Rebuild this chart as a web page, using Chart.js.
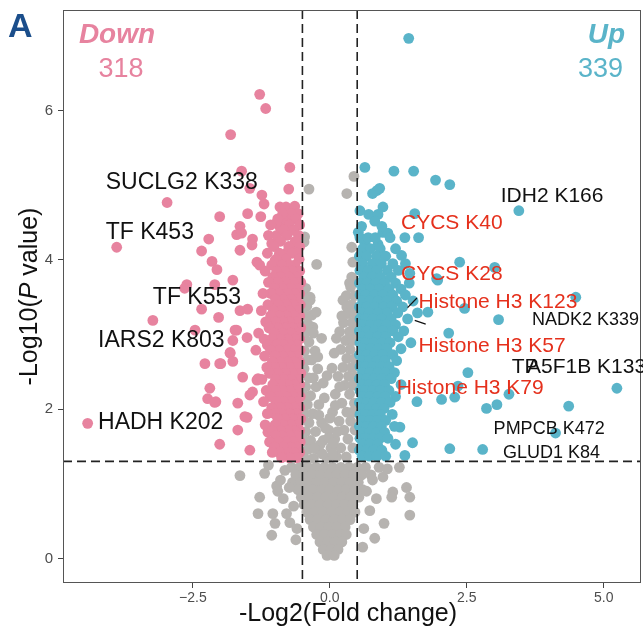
<!DOCTYPE html>
<html>
<head>
<meta charset="utf-8">
<script src="https://cdn.jsdelivr.net/npm/chart.js@4.4.1/dist/chart.umd.min.js"></script>
<style>
  html, body { margin: 0; padding: 0; background: #fff; }
  #wrap { width: 643px; height: 640px; }
</style>
</head>
<body>
<div id="wrap"><canvas id="volcano" width="643" height="640"></canvas></div>
<script>
// ---- data: [-log2(FC), -log10(P)] ----
const downPoints = [
  [-1.28,6.22],[-1.17,6.03],[-1.81,5.68],[-1.61,5.19],[-0.73,5.24],[-0.75,4.95],[-1.46,4.96],[-1.24,4.87],
  [-1.20,4.75],[-0.91,4.71],[-0.80,4.71],[-0.64,4.72],[-1.50,4.62],[-1.26,4.58],[-2.01,4.58],[-1.64,4.45],
  [-1.70,4.34],[-1.61,4.36],[-2.21,4.28],[-1.41,4.28],[-1.42,4.20],[-1.64,4.13],[-2.34,4.12],[-2.15,3.98],
  [-2.06,3.87],[-1.06,4.22],[-0.97,4.33],[-0.78,4.10],[-1.00,3.99],[-0.68,4.16],[-1.33,3.97],[-1.28,3.93],
  [-0.91,4.44],[-0.78,4.53],[-0.97,4.50],[-2.97,4.77],[-3.89,4.17],[-2.61,3.67],[-2.65,3.62],[-2.10,3.67],
  [-1.77,3.73],[-2.34,3.34],[-3.23,3.19],[-2.03,3.23],[-2.46,3.06],[-1.70,3.06],[-4.42,1.81],[-2.28,2.61],
  [-2.01,2.61],[-2.19,2.28],[-2.23,2.14],[-2.08,2.10],[-2.01,1.53],[-1.68,1.72],[-1.46,1.45],[-1.68,2.08],
  [-1.51,1.89],[-1.59,2.43],[-1.41,2.23],[-1.33,2.39],[-1.77,2.92],[-1.82,2.75],[-1.64,3.32],[-1.50,3.34],
  [-1.73,3.06],[-1.51,2.96],[-1.82,2.76],[-1.77,2.64],[-1.99,2.61],[-2.10,2.09],[-1.46,2.19],[-1.31,2.41],
  [-1.55,1.90],[-1.13,1.69],
  [-0.58,4.62],[-0.71,4.62],[-0.86,4.62],[-0.62,4.55],[-0.95,4.55],[-0.55,4.47],[-0.74,4.47],[-1.08,4.47],
  [-0.66,4.40],[-0.84,4.40],[-0.57,4.33],[-0.78,4.33],[-1.12,4.33],[-0.63,4.25],[-0.90,4.25],[-0.55,4.18],
  [-0.75,4.18],[-1.02,4.18],[-0.60,4.09],[-0.69,4.09],[-0.92,4.09],[-1.14,4.09],[-0.56,4.01],[-0.80,4.01],
  [-0.98,4.01],[-0.64,3.93],[-0.73,3.93],[-0.88,3.93],[-1.06,3.93],[-0.55,3.85],[-0.69,3.85],[-0.83,3.85],
  [-0.97,3.85],[-1.18,3.85],[-0.60,3.77],[-0.74,3.77],[-0.90,3.77],[-1.04,3.77],[-0.53,3.70],[-0.66,3.70],
  [-0.81,3.70],[-0.95,3.70],[-1.12,3.70],[-0.58,3.62],[-0.72,3.62],[-0.87,3.62],[-1.01,3.62],[-0.55,3.55],
  [-0.64,3.55],[-0.78,3.55],[-0.93,3.55],[-1.08,3.55],[-1.22,3.55],[-0.60,3.47],[-0.70,3.47],[-0.85,3.47],
  [-0.99,3.47],[-0.54,3.40],[-0.67,3.40],[-0.80,3.40],[-0.94,3.40],[-1.13,3.40],[-0.59,3.32],[-0.73,3.32],
  [-0.88,3.32],[-1.03,3.32],[-1.25,3.32],[-0.55,3.25],[-0.65,3.25],[-0.79,3.25],[-0.92,3.25],[-1.08,3.25],
  [-0.61,3.17],[-0.74,3.17],[-0.86,3.17],[-0.99,3.17],[-1.17,3.17],[-0.53,3.09],[-0.68,3.09],[-0.81,3.09],
  [-0.95,3.09],[-1.11,3.09],[-0.58,3.02],[-0.71,3.02],[-0.87,3.02],[-1.02,3.02],[-1.30,3.02],[-0.55,2.94],
  [-0.64,2.94],[-0.77,2.94],[-0.91,2.94],[-1.06,2.94],[-1.20,2.94],[-0.60,2.86],[-0.73,2.86],[-0.85,2.86],
  [-0.98,2.86],[-1.14,2.86],[-0.54,2.79],[-0.67,2.79],[-0.80,2.79],[-0.93,2.79],[-1.08,2.79],[-1.35,2.79],
  [-0.59,2.71],[-0.72,2.71],[-0.86,2.71],[-1.00,2.71],[-1.19,2.71],[-0.55,2.63],[-0.65,2.63],[-0.78,2.63],
  [-0.91,2.63],[-1.05,2.63],[-0.61,2.56],[-0.74,2.56],[-0.88,2.56],[-1.01,2.56],[-1.15,2.56],[-0.53,2.48],
  [-0.68,2.48],[-0.82,2.48],[-0.95,2.48],[-1.10,2.48],[-0.58,2.40],[-0.71,2.40],[-0.85,2.40],[-0.99,2.40],
  [-1.24,2.40],[-0.55,2.33],[-0.64,2.33],[-0.77,2.33],[-0.90,2.33],[-1.04,2.33],[-0.60,2.25],[-0.73,2.25],
  [-0.87,2.25],[-1.00,2.25],[-1.16,2.25],[-0.54,2.17],[-0.67,2.17],[-0.80,2.17],[-0.94,2.17],[-1.09,2.17],
  [-0.59,2.10],[-0.72,2.10],[-0.85,2.10],[-0.98,2.10],[-1.21,2.10],[-0.55,2.02],[-0.65,2.02],[-0.78,2.02],
  [-0.91,2.02],[-1.06,2.02],[-0.61,1.94],[-0.74,1.94],[-0.88,1.94],[-1.01,1.94],[-1.14,1.94],[-0.53,1.87],
  [-0.68,1.87],[-0.82,1.87],[-0.95,1.87],[-0.58,1.79],[-0.71,1.79],[-0.86,1.79],[-1.00,1.79],[-1.18,1.79],
  [-0.55,1.71],[-0.64,1.71],[-0.77,1.71],[-0.90,1.71],[-1.05,1.71],[-0.60,1.64],[-0.73,1.64],[-0.87,1.64],
  [-0.99,1.64],[-0.54,1.56],[-0.67,1.56],[-0.80,1.56],[-0.94,1.56],[-1.10,1.56],[-0.59,1.49],[-0.72,1.49],
  [-0.85,1.49],[-1.01,1.49],[-0.55,1.42],[-0.65,1.42],[-0.78,1.42],[-0.92,1.42],[-1.05,1.42],[-0.60,1.35],
  [-0.74,1.35],[-0.88,1.35]
];

const upPoints = [
  [1.44,6.97],[0.64,5.24],[1.17,5.19],[1.53,5.19],[1.93,5.07],[2.19,5.01],[3.45,4.66],[0.86,4.93],
  [0.78,4.89],[0.91,4.96],[0.97,4.71],[0.55,4.66],[0.71,4.61],[0.88,4.61],[0.82,4.52],[1.55,4.62],
  [1.37,4.30],[1.62,4.30],[1.31,4.06],[2.37,3.97],[3.01,3.90],[1.97,3.73],[4.49,3.50],[2.46,3.35],
  [3.08,3.20],[2.17,3.02],[2.52,2.49],[5.24,2.28],[4.36,2.04],[4.12,1.68],[2.79,1.46],[2.19,1.47],
  [3.05,2.06],[2.86,2.01],[3.27,2.20],[2.28,2.16],[2.04,2.13],[2.34,2.31],[1.59,2.10],[1.51,1.55],
  [1.28,1.76],[1.37,1.38],[0.97,4.37],[1.06,4.36],[0.52,4.37],[0.64,4.22],[0.88,4.21],[1.46,3.82],
  [1.95,3.75],[1.79,3.30],
  [0.58,4.45],[0.95,4.45],[0.55,4.30],[0.70,4.30],[0.83,4.30],[1.10,4.30],[0.60,4.15],[0.74,4.15],
  [0.92,4.15],[1.20,4.15],[0.54,4.05],[0.67,4.05],[0.85,4.05],[1.02,4.05],[0.60,3.95],[0.78,3.95],
  [0.94,3.95],[1.15,3.95],[1.38,3.95],[0.55,3.86],[0.70,3.86],[0.86,3.86],[1.05,3.86],[1.25,3.86],
  [0.62,3.77],[0.77,3.77],[0.93,3.77],[1.12,3.77],[0.54,3.69],[0.68,3.69],[0.84,3.69],[1.00,3.69],
  [1.20,3.69],[1.45,3.69],[0.59,3.61],[0.74,3.61],[0.90,3.61],[1.08,3.61],[1.30,3.61],[0.55,3.53],
  [0.66,3.53],[0.81,3.53],[0.97,3.53],[1.15,3.53],[1.38,3.53],[0.60,3.45],[0.73,3.45],[0.88,3.45],
  [1.04,3.45],[1.22,3.45],[1.52,3.45],[0.54,3.37],[0.67,3.37],[0.82,3.37],[0.98,3.37],[1.13,3.37],
  [1.33,3.37],[0.59,3.29],[0.72,3.29],[0.88,3.29],[1.05,3.29],[1.24,3.29],[1.60,3.29],[0.55,3.21],
  [0.65,3.21],[0.79,3.21],[0.95,3.21],[1.12,3.21],[1.42,3.21],[0.60,3.13],[0.74,3.13],[0.89,3.13],
  [1.03,3.13],[1.20,3.13],[0.54,3.05],[0.67,3.05],[0.82,3.05],[0.97,3.05],[1.15,3.05],[1.35,3.05],
  [0.59,2.97],[0.72,2.97],[0.87,2.97],[1.02,2.97],[1.25,2.97],[0.55,2.89],[0.65,2.89],[0.80,2.89],
  [0.95,2.89],[1.10,2.89],[1.48,2.89],[0.60,2.81],[0.74,2.81],[0.88,2.81],[1.04,2.81],[1.30,2.81],
  [0.54,2.73],[0.67,2.73],[0.82,2.73],[0.97,2.73],[1.15,2.73],[0.59,2.65],[0.72,2.65],[0.86,2.65],
  [1.01,2.65],[1.22,2.65],[0.55,2.57],[0.65,2.57],[0.79,2.57],[0.94,2.57],[1.08,2.57],[0.60,2.49],
  [0.73,2.49],[0.88,2.49],[1.02,2.49],[1.18,2.49],[0.54,2.41],[0.67,2.41],[0.81,2.41],[0.95,2.41],
  [1.12,2.41],[0.59,2.33],[0.72,2.33],[0.86,2.33],[1.00,2.33],[1.30,2.33],[0.55,2.25],[0.65,2.25],
  [0.78,2.25],[0.92,2.25],[1.08,2.25],[0.60,2.17],[0.73,2.17],[0.87,2.17],[1.01,2.17],[1.20,2.17],
  [0.54,2.09],[0.67,2.09],[0.80,2.09],[0.94,2.09],[1.10,2.09],[0.59,2.01],[0.72,2.01],[0.86,2.01],
  [0.99,2.01],[0.55,1.93],[0.65,1.93],[0.78,1.93],[0.92,1.93],[1.14,1.93],[0.60,1.85],[0.73,1.85],
  [0.87,1.85],[1.02,1.85],[0.54,1.77],[0.67,1.77],[0.80,1.77],[0.94,1.77],[1.18,1.77],[0.59,1.69],
  [0.72,1.69],[0.86,1.69],[1.00,1.69],[0.55,1.61],[0.65,1.61],[0.78,1.61],[0.92,1.61],[1.06,1.61],
  [0.60,1.53],[0.73,1.53],[0.87,1.53],[1.20,1.53],[0.54,1.45],[0.67,1.45],[0.80,1.45],[0.95,1.45],
  [0.59,1.37],[0.72,1.37],[0.86,1.37],[1.02,1.37]
];

const nsPoints = [
  [-0.38,4.95],[0.31,4.89],[0.44,5.12],[-0.46,4.31],[-0.47,4.24],[-0.24,3.94],[0.40,4.17],[0.42,3.97],
  [0.40,3.77],[0.36,3.69],[0.24,3.46],[0.31,3.37],[0.18,3.04],[-0.49,3.50],[-0.36,3.46],[-0.31,3.10],
  [-0.44,3.62],[-0.36,3.50],[-0.47,3.50],[-0.42,3.38],[-0.47,3.26],[-0.33,3.26],[-0.40,3.14],[-0.45,3.02],
  [-0.30,3.02],[-0.38,2.90],[-0.46,2.78],[-0.27,2.78],[-0.41,2.66],[-0.33,2.66],[-0.47,2.54],[-0.22,2.54],
  [-0.38,2.42],[-0.30,2.42],[-0.44,2.30],[-0.25,2.30],[-0.35,2.18],[-0.47,2.18],[-0.41,2.06],[-0.20,2.06],
  [-0.46,1.94],[-0.31,1.94],[-0.38,1.82],[-0.15,1.82],[-0.44,1.70],[-0.26,1.70],[-0.35,1.58],[-0.47,1.58],
  [-0.12,1.58],[-0.40,1.46],[-0.22,1.46],[-0.46,1.34],[-0.30,1.34],[-0.05,1.34],
  [0.38,3.64],[0.30,3.52],[0.45,3.52],[0.40,3.40],[0.33,3.28],[0.46,3.28],[0.25,3.16],[0.41,3.16],
  [0.36,3.04],[0.47,3.04],[0.29,2.92],[0.42,2.92],[0.20,2.80],[0.37,2.80],[0.31,2.68],[0.46,2.68],
  [0.24,2.56],[0.40,2.56],[0.15,2.44],[0.34,2.44],[0.47,2.44],[0.27,2.32],[0.42,2.32],[0.10,2.20],
  [0.36,2.20],[0.22,2.08],[0.45,2.08],[0.05,1.96],[0.31,1.96],[0.41,1.96],[0.17,1.84],[0.38,1.84],
  [-0.02,1.72],[0.26,1.72],[0.46,1.72],[0.09,1.60],[0.33,1.60],[0.02,1.48],[0.20,1.48],[0.42,1.48],
  [0.12,1.36],[0.30,1.36],[-0.05,2.45],[0.08,2.75],[-0.10,2.15],[0.00,1.88],[-0.02,1.62],[-0.14,1.40],
  [-0.18,1.52],[0.06,1.55],[-0.08,1.75],[0.14,1.70],[-0.20,1.92],[0.10,2.05],[-0.12,2.35],[0.18,2.30],
  [0.04,2.55],[-0.22,2.70],[0.12,2.95],[-0.15,2.95],[0.22,3.25],[-0.25,3.30],[0.05,1.40],[-0.28,1.48],
  [-0.70,1.22],[-0.55,1.22],[-0.40,1.22],[-0.25,1.22],[-0.10,1.22],[0.05,1.22],[0.20,1.22],[0.35,1.22],
  [0.50,1.22],[0.65,1.22],[-0.62,1.12],[-0.47,1.12],[-0.32,1.12],[-0.17,1.12],[-0.02,1.12],[0.13,1.12],
  [0.28,1.12],[0.43,1.12],[0.58,1.12],[0.75,1.12],[-0.68,1.02],[-0.53,1.02],[-0.38,1.02],[-0.23,1.02],
  [-0.08,1.02],[0.07,1.02],[0.22,1.02],[0.37,1.02],[0.52,1.02],[-0.58,0.92],[-0.44,0.92],[-0.30,0.92],
  [-0.15,0.92],[0.00,0.92],[0.15,0.92],[0.30,0.92],[0.45,0.92],[0.60,0.92],[-0.52,0.82],[-0.37,0.82],
  [-0.22,0.82],[-0.07,0.82],[0.08,0.82],[0.23,0.82],[0.38,0.82],[0.53,0.82],[-0.47,0.72],[-0.33,0.72],
  [-0.18,0.72],[-0.03,0.72],[0.12,0.72],[0.27,0.72],[0.42,0.72],[-0.42,0.62],[-0.27,0.62],[-0.12,0.62],
  [0.03,0.62],[0.18,0.62],[0.33,0.62],[0.46,0.62],[-0.36,0.52],[-0.22,0.52],[-0.07,0.52],[0.08,0.52],
  [0.23,0.52],[0.37,0.52],[-0.30,0.42],[-0.16,0.42],[-0.02,0.42],[0.13,0.42],[0.28,0.42],[-0.24,0.32],
  [-0.10,0.32],[0.05,0.32],[0.19,0.32],[0.30,0.32],[-0.18,0.22],[-0.04,0.22],[0.10,0.22],[0.22,0.22],
  [-0.12,0.12],[0.02,0.12],[0.15,0.12],[-0.05,0.04],[0.08,0.04],
  [-1.64,1.11],[-1.19,1.14],[-1.28,0.82],[-1.31,0.60],[-1.06,0.31],[-1.00,0.47],[-0.73,0.48],[-0.97,0.97],
  [-1.04,0.60],[-0.79,0.60],[-0.90,1.05],[-0.85,0.80],[-0.62,0.25],[-1.12,1.25],[-0.82,1.18],[-0.95,0.90],
  [-0.74,0.95],[-0.66,0.70],[-0.60,0.40],
  [1.40,0.95],[1.46,0.82],[1.46,0.58],[0.99,0.47],[0.82,0.27],[0.73,0.64],[1.15,0.89],[1.13,0.82],
  [0.78,1.05],[0.97,1.09],[1.27,1.22],[0.90,1.22],[1.05,1.20],[0.62,0.40],[0.60,0.15],[0.85,0.80],
  [0.67,0.90]
];

const xTicks = [-2.5, 0, 2.5, 5];
const yTicks = [0, 2, 4, 6];
const fcCut = 0.5;
const pCut = 1.3;

// labelled sites: [text, x, y, colour key]
const siteLabels = [
  ['SUCLG2 K338', -4.09, 5.03, 'k'],
  ['TF K453', -4.09, 4.36, 'k'],
  ['TF K553', -3.23, 3.50, 'k'],
  ['IARS2 K803', -4.23, 2.92, 'k'],
  ['HADH K202', -4.23, 1.82, 'k'],
  ['IDH2 K166', 3.12, 4.86, 'k2'],
  ['CYCS K40', 1.30, 4.49, 'r'],
  ['CYCS K28', 1.30, 3.81, 'r'],
  ['Histone H3 K123', 1.62, 3.44, 'r'],
  ['NADK2 K339', 3.69, 3.19, 'k3'],
  ['Histone H3 K57', 1.62, 2.84, 'r'],
  ['TP', 3.32, 2.56, 'k2'],
  ['A5F1B K133', 3.60, 2.56, 'k2'],
  ['Histone H3 K79', 1.22, 2.28, 'r'],
  ['PMPCB K472', 2.99, 1.74, 'k3'],
  ['GLUD1 K84', 3.16, 1.41, 'k3']
];
const leaders = [
  [1.42, 3.36, 1.59, 3.49],
  [1.55, 3.19, 1.75, 3.14]
];

const FONT = '"Liberation Sans", Arial, sans-serif';
const PINK = '#e7839f';
const BLUE = '#5ab4c9';
const GREY = '#b6b3b0';

const toXY = arr => arr.map(p => ({ x: p[0], y: p[1] }));

const overlay = {
  id: 'overlay',
  afterDatasetsDraw(chart) {
    const ctx = chart.ctx;
    const a = chart.chartArea;
    const xs = chart.scales.x, ys = chart.scales.y;
    ctx.save();

    // threshold lines
    ctx.strokeStyle = '#222';
    ctx.lineWidth = 1.6;
    ctx.setLineDash([9, 5]);
    [-fcCut, fcCut].forEach(v => {
      const px = xs.getPixelForValue(v);
      ctx.beginPath(); ctx.moveTo(px, a.top); ctx.lineTo(px, a.bottom); ctx.stroke();
    });
    const py = ys.getPixelForValue(pCut);
    ctx.beginPath(); ctx.moveTo(a.left, py); ctx.lineTo(a.right, py); ctx.stroke();
    ctx.setLineDash([]);

    // frame
    ctx.strokeStyle = '#555';
    ctx.lineWidth = 1;
    ctx.strokeRect(a.left + 0.5, a.top + 0.5, a.right - a.left - 1, a.bottom - a.top - 1);

    // leader segments
    ctx.strokeStyle = '#111';
    ctx.lineWidth = 1.2;
    leaders.forEach(l => {
      ctx.beginPath();
      ctx.moveTo(xs.getPixelForValue(l[0]), ys.getPixelForValue(l[1]));
      ctx.lineTo(xs.getPixelForValue(l[2]), ys.getPixelForValue(l[3]));
      ctx.stroke();
    });

    // site labels
    ctx.textBaseline = 'middle';
    ctx.textAlign = 'left';
    siteLabels.forEach(s => {
      let font = '23px ' + FONT, col = '#111';
      if (s[3] === 'r') { font = '21px ' + FONT; col = '#e5301c'; }
      if (s[3] === 'k2') { font = '21px ' + FONT; }
      if (s[3] === 'k3') { font = '18px ' + FONT; }
      ctx.font = font;
      ctx.fillStyle = col;
      ctx.fillText(s[0], xs.getPixelForValue(s[1]), ys.getPixelForValue(s[2]));
    });

    // panel letter and counts
    ctx.fillStyle = '#1b4e8b';
    ctx.font = 'bold 34px ' + FONT;
    ctx.fillText('A', 8, 28);

    ctx.textAlign = 'center';
    ctx.fillStyle = PINK;
    ctx.font = 'italic bold 28px ' + FONT;
    ctx.fillText('Down', 117, 35);
    ctx.font = '27px ' + FONT;
    ctx.fillText('318', 121, 70);

    ctx.textAlign = 'right';
    ctx.fillStyle = BLUE;
    ctx.font = 'italic bold 28px ' + FONT;
    ctx.fillText('Up', 625, 35);
    ctx.font = '27px ' + FONT;
    ctx.fillText('339', 623, 70);

    // axis titles
    ctx.fillStyle = '#111';
    ctx.textAlign = 'center';
    ctx.font = '25px ' + FONT;
    ctx.fillText('-Log2(Fold change)', 348, 614);

    ctx.translate(30, (a.top + a.bottom) / 2);
    ctx.rotate(-Math.PI / 2);
    const parts = [['-Log10(', ''], ['P', 'italic '], [' value)', '']];
    let total = 0;
    parts.forEach(p => { ctx.font = p[1] + '25px ' + FONT; total += ctx.measureText(p[0]).width; });
    let cx = -total / 2;
    ctx.textAlign = 'left';
    parts.forEach(p => {
      ctx.font = p[1] + '25px ' + FONT;
      ctx.fillText(p[0], cx, 0);
      cx += ctx.measureText(p[0]).width;
    });
    ctx.restore();
  }
};

const tickGrid = { display: true, drawOnChartArea: false, drawTicks: true, tickLength: 5, color: '#444' };

new Chart(document.getElementById('volcano'), {
  type: 'scatter',
  data: {
    datasets: [
      { label: 'Up', data: toXY(upPoints), backgroundColor: BLUE, order: 1 },
      { label: 'Down', data: toXY(downPoints), backgroundColor: PINK, order: 2 },
      { label: 'NS', data: toXY(nsPoints), backgroundColor: GREY, order: 3 }
    ]
  },
  options: {
    responsive: false,
    animation: false,
    events: [],
    layout: { autoPadding: false, padding: { top: 10, right: 2, left: 0, bottom: 0 } },
    elements: { point: { radius: 5.4, borderWidth: 0, hoverRadius: 5.4 } },
    plugins: { legend: { display: false }, tooltip: { enabled: false } },
    scales: {
      x: {
        type: 'linear', min: -4.87, max: 5.68,
        afterBuildTicks: s => { s.ticks = xTicks.map(v => ({ value: v })); },
        afterFit: s => { s.height = 57; s.paddingLeft = 0; s.paddingRight = 0; },
        grid: tickGrid,
        border: { display: false },
        ticks: {
          padding: 2, color: '#4d4d4d', font: { family: FONT, size: 14 },
          callback: v => (v < 0 ? '\u2212' : '') + Math.abs(v).toFixed(1)
        }
      },
      y: {
        type: 'linear', min: -0.33, max: 7.35,
        afterBuildTicks: s => { s.ticks = yTicks.map(v => ({ value: v })); },
        afterFit: s => { s.width = 63; s.paddingTop = 0; s.paddingBottom = 0; },
        grid: tickGrid,
        border: { display: false },
        ticks: { padding: 5, color: '#4d4d4d', font: { family: FONT, size: 15 }, callback: v => String(v) }
      }
    }
  },
  plugins: [overlay]
});
</script>
</body>
</html>
